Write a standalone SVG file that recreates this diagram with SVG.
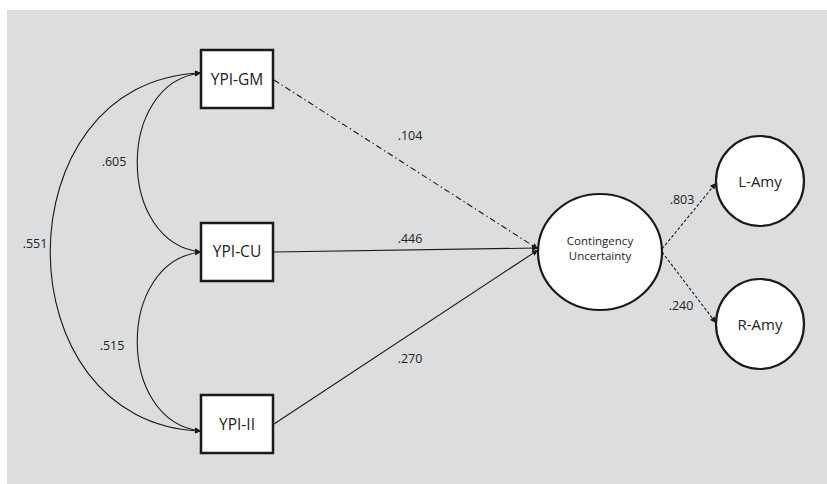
<svg xmlns="http://www.w3.org/2000/svg" width="827" height="484" viewBox="0 0 827 484">
<style>
.box{fill:#fff;stroke:#1a1a1a;stroke-width:2.5}
.ell{fill:#fff;stroke:#1a1a1a;stroke-width:2.2}
.nt{font-family:"Open Sans","Liberation Sans",sans-serif;fill:#222;text-anchor:middle}
.lb{font-family:"Open Sans","Liberation Sans",sans-serif;font-size:12.5px;fill:#222;text-anchor:middle}
.c{fill:none;stroke:#1a1a1a;stroke-width:1.1}
</style>
<defs>
<marker id="ah" viewBox="0 0 10 10" refX="10" refY="5" markerWidth="8" markerHeight="6" markerUnits="userSpaceOnUse" orient="auto-start-reverse">
<path d="M0,0 L10,5 L0,10 z" fill="#1a1a1a"/>
</marker>
</defs>
<rect x="0" y="0" width="827" height="484" fill="#fff"/>
<rect x="7" y="10" width="820" height="474" fill="#dcdddf"/>
<g id="connectors">
<path class="c" d="M201,73 C116,82 116,243 201,252" marker-start="url(#ah)" marker-end="url(#ah)"/>
<path class="c" d="M201,252 C116,261 116,422 201,431" marker-start="url(#ah)" marker-end="url(#ah)"/>
<path class="c" d="M201,73 C0,80 0,424 201,431" marker-start="url(#ah)" marker-end="url(#ah)"/>
<path class="c" d="M274,80 L538,249" stroke-dasharray="6,3,1.5,3" marker-end="url(#ah)"/>
<path class="c" d="M274,252 L538,248" stroke-width="1.4" marker-end="url(#ah)"/>
<path class="c" d="M274,424 L538,250" marker-end="url(#ah)"/>
<path class="c" d="M662,249 L716,183" stroke-dasharray="3,2" marker-end="url(#ah)"/>
<path class="c" d="M662,252 L716,323" stroke-dasharray="3,2" marker-end="url(#ah)"/>
</g>
<g id="labels">
<text class="lb" x="410" y="140">.104</text>
<text class="lb" x="410" y="243">.446</text>
<text class="lb" x="410" y="363">.270</text>
<text class="lb" x="114" y="166">.605</text>
<text class="lb" x="35" y="248">.551</text>
<text class="lb" x="112" y="350">.515</text>
<text class="lb" x="682" y="204">.803</text>
<text class="lb" x="681" y="310">.240</text>
</g>
<g id="ypi-gm"><rect class="box" x="201" y="50" width="72" height="58"/><text class="nt" x="237" y="85" font-size="15.5">YPI-GM</text></g>
<g id="ypi-cu"><rect class="box" x="201" y="223" width="72" height="58"/><text class="nt" x="237" y="257" font-size="15.5">YPI-CU</text></g>
<g id="ypi-ii"><rect class="box" x="201" y="395" width="72" height="58"/><text class="nt" x="237" y="430" font-size="15.5">YPI-II</text></g>
<g id="contingency"><ellipse class="ell" cx="600" cy="252" rx="62" ry="58"/><text class="nt" x="600" y="245" font-size="11.5">Contingency</text><text class="nt" x="600" y="260" font-size="11.5">Uncertainty</text></g>
<g id="l-amy"><ellipse class="ell" cx="760" cy="181" rx="44" ry="45"/><text class="nt" x="760" y="187" font-size="15">L-Amy</text></g>
<g id="r-amy"><ellipse class="ell" cx="760" cy="324" rx="44" ry="45"/><text class="nt" x="760" y="330" font-size="15">R-Amy</text></g>
</svg>
